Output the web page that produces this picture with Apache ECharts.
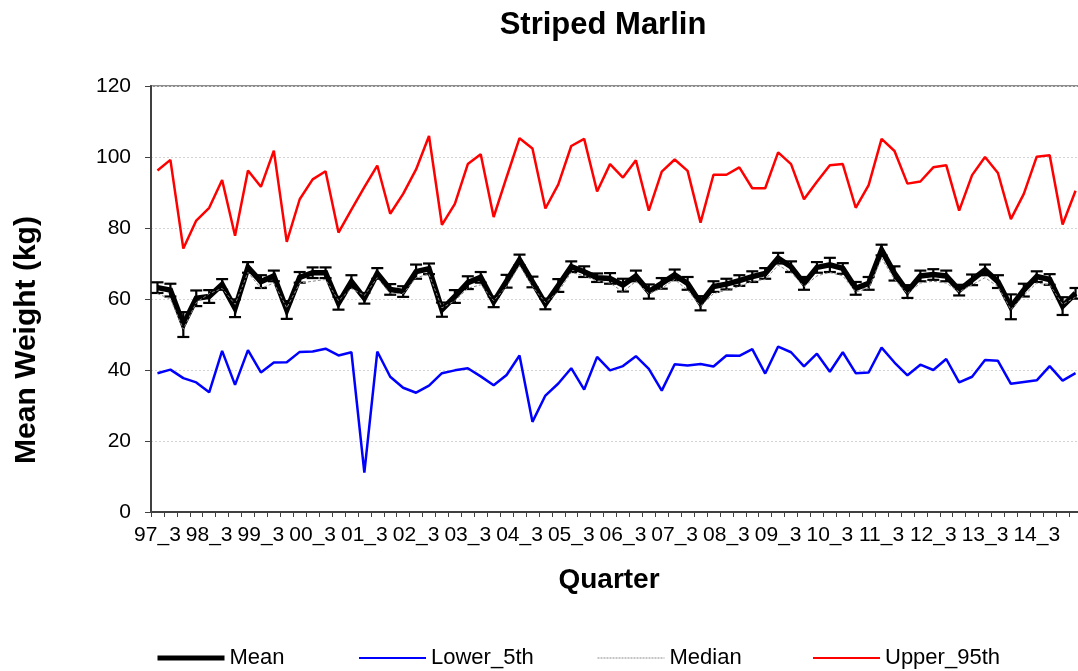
<!DOCTYPE html>
<html>
<head>
<meta charset="utf-8">
<title>Striped Marlin</title>
<script src="https://cdn.jsdelivr.net/npm/echarts@6/dist/echarts.min.js"></script>
<style>
  html, body { margin: 0; padding: 0; background: #fff; overflow: hidden; }
  #chart { width: 1112px; height: 671px; }
</style>
</head>
<body>
<div id="chart"></div>
<script>
// Quarterly size statistics for striped marlin (kg)
const quarters = [
  '97_3','97_4','98_1','98_2','98_3','98_4','99_1','99_2','99_3','99_4',
  '00_1','00_2','00_3','00_4','01_1','01_2','01_3','01_4','02_1','02_2',
  '02_3','02_4','03_1','03_2','03_3','03_4','04_1','04_2','04_3','04_4',
  '05_1','05_2','05_3','05_4','06_1','06_2','06_3','06_4','07_1','07_2',
  '07_3','07_4','08_1','08_2','08_3','08_4','09_1','09_2','09_3','09_4',
  '10_1','10_2','10_3','10_4','11_1','11_2','11_3','11_4','12_1','12_2',
  '12_3','12_4','13_1','13_2','13_3','13_4','14_1','14_2','14_3','14_4',
  '15_1','15_2'
];

const meanWeight = [
  63.2, 62.5, 52.8, 60.2, 60.7, 64.1, 57.4, 68.9, 64.9, 66.5,
  56.9, 66.1, 67.4, 67.4, 58.8, 64.9, 60.2, 67.2, 62.7, 62.1,
  67.7, 68.5, 57.0, 60.7, 64.6, 66.1, 59.2, 65.0, 71.0, 64.8,
  58.6, 63.8, 69.1, 67.7, 66.0, 65.8, 63.9, 66.5, 62.1, 64.4,
  66.8, 64.4, 58.8, 63.5, 64.2, 65.2, 66.3, 67.2, 71.5, 69.1,
  64.4, 68.9, 69.6, 68.6, 63.0, 64.4, 73.8, 67.2, 62.1, 66.5,
  66.9, 66.5, 62.5, 65.4, 68.2, 64.9, 57.8, 62.5, 66.3, 65.5,
  58.0, 61.6
];

// half-width of the error bar drawn on each mean
const meanError = [
  1.5, 1.8, 3.5, 2.2, 1.8, 1.5, 2.5, 1.5, 1.8, 1.5,
  2.5, 1.5, 1.5, 1.5, 1.8, 1.8, 1.5, 1.5, 1.5, 1.5,
  2.0, 1.5, 2.0, 1.8, 1.8, 1.5, 1.5, 1.8, 1.5, 1.5,
  1.5, 1.8, 1.5, 1.5, 1.2, 1.5, 1.8, 1.5, 2.0, 1.5,
  1.5, 1.8, 2.0, 1.5, 1.5, 1.5, 1.5, 1.5, 1.5, 1.5,
  1.8, 1.5, 2.0, 1.5, 1.8, 1.8, 1.5, 2.0, 1.8, 1.5,
  1.5, 1.5, 1.5, 1.5, 1.5, 1.8, 3.5, 1.8, 1.5, 1.5,
  2.5, 1.5
];

const medianWeight = [
  61.5, 60.0, 51.5, 59.0, 61.5, 63.0, 58.5, 67.5, 63.0, 64.5,
  57.5, 64.5, 65.0, 65.5, 59.5, 63.0, 61.0, 66.0, 61.5, 61.5,
  66.0, 67.0, 57.5, 59.5, 63.0, 64.0, 59.5, 63.5, 69.5, 63.5,
  59.0, 62.0, 67.5, 66.5, 65.0, 64.5, 62.0, 65.0, 61.5, 63.0,
  65.5, 62.5, 58.0, 61.5, 62.5, 63.5, 65.0, 65.5, 69.5, 67.5,
  63.5, 66.5, 67.5, 66.5, 62.0, 63.0, 71.5, 65.5, 61.5, 64.5,
  65.0, 64.5, 62.0, 64.0, 66.0, 63.5, 57.0, 61.0, 64.5, 64.0,
  58.5, 60.5
];

const lower5th = [
  39.1, 40.1, 37.7, 36.5, 33.7, 45.4, 35.8, 45.6, 39.3, 42.1,
  42.2, 45.1, 45.2, 46.0, 44.1, 45.0, 11.1, 45.2, 38.1, 35.0,
  33.6, 35.6, 39.1, 39.9, 40.5, 38.2, 35.7, 38.6, 44.1, 25.4,
  32.8, 36.2, 40.5, 34.5, 43.7, 39.9, 41.1, 43.9, 40.3, 34.2,
  41.6, 41.3, 41.7, 41.0, 44.1, 44.0, 45.9, 39.0, 46.6, 45.0,
  41.0, 44.6, 39.5, 45.0, 39.1, 39.3, 46.3, 42.1, 38.5, 41.5,
  40.0, 43.1, 36.5, 38.1, 42.8, 42.6, 36.1, 36.6, 37.1, 41.1,
  37.0, 39.1
];

const upper95th = [
  96.2, 99.2, 74.2, 82.1, 85.7, 93.5, 77.8, 96.2, 91.6, 101.8,
  76.1, 88.1, 93.7, 96.0, 78.7, 85.2, 91.5, 97.6, 84.0, 89.6,
  96.5, 105.9, 80.9, 86.8, 98.0, 100.8, 83.1, 94.3, 105.3, 102.4,
  85.5, 92.3, 103.1, 105.1, 90.3, 98.0, 94.2, 99.1, 84.9, 95.9,
  99.3, 96.1, 81.5, 95.0, 95.0, 97.1, 91.2, 91.2, 101.3, 98.0,
  88.1, 93.0, 97.7, 98.0, 85.7, 92.1, 105.1, 101.7, 92.5, 93.1,
  97.1, 97.7, 84.9, 94.9, 100.0, 95.5, 82.5, 89.6, 100.1, 100.5,
  81.0, 90.5
];

const yTicks = { min: 0, max: 120, step: 20 };

const FONT = '"Liberation Sans", Arial, sans-serif';

// rows of [index, low, high] for the error bars
const errorRows = meanWeight.map((m, i) => [i, m - meanError[i], m + meanError[i]]);

const chart = echarts.init(document.getElementById('chart'), null, { renderer: 'canvas' });

// one legend block per entry so each sits at its own spot along the bottom
function legendBlock(name, left, lineStyle) {
  return {
    left: left, top: 642,
    itemWidth: 67, itemHeight: 16,
    textStyle: { fontSize: 22, color: '#000', fontFamily: FONT },
    data: [{ name: name, lineStyle: lineStyle, itemStyle: { opacity: 0 } }]
  };
}

const option = {
  backgroundColor: '#fff',
  animation: false,
  textStyle: { fontFamily: FONT },
  graphic: [
    {
      type: 'text', x: 603, y: 25, z: 10,
      style: { text: 'Striped Marlin', font: 'bold 31px ' + FONT, fill: '#000',
               align: 'center', verticalAlign: 'middle' }
    },
    {
      type: 'text', x: 609, y: 580, z: 10,
      style: { text: 'Quarter', font: 'bold 28px ' + FONT, fill: '#000',
               align: 'center', verticalAlign: 'middle' }
    },
    {
      type: 'text', x: 27, y: 340, rotation: Math.PI / 2, z: 10,
      style: { text: 'Mean Weight (kg)', font: 'bold 30px ' + FONT, fill: '#000',
               align: 'center', verticalAlign: 'middle' }
    }
  ],
  grid: {
    left: 151, top: 86, height: 426, width: 931,
    show: true, borderColor: '#8c8c8c', borderWidth: 2, backgroundColor: 'transparent'
  },
  legend: [
    legendBlock('Mean', 150, { width: 5, color: '#000' }),
    legendBlock('Lower_5th', 353, { width: 2, color: '#0000ff' }),
    legendBlock('Median', 592, { width: 1, color: '#888', type: [2, 1] }),
    legendBlock('Upper_95th', 807, { width: 2, color: '#ff0000' })
  ],
  xAxis: {
    type: 'category',
    data: quarters,
    boundaryGap: true,
    axisLine: { lineStyle: { color: '#404040', width: 2 } },
    axisTick: { show: true, interval: 0, length: 5, lineStyle: { color: '#404040', width: 1 } },
    axisLabel: { interval: 3, margin: 13, fontSize: 21, color: '#000', fontFamily: FONT },
    splitLine: { show: false }
  },
  yAxis: {
    type: 'value',
    min: yTicks.min, max: yTicks.max, interval: yTicks.step,
    axisLine: { show: true, lineStyle: { color: '#404040', width: 2 } },
    axisTick: { show: true, length: 6, lineStyle: { color: '#404040', width: 1 } },
    axisLabel: { margin: 20, fontSize: 21, color: '#000', fontFamily: FONT },
    splitLine: { show: true, lineStyle: { color: '#d4d4d4', width: 1, type: [2, 2] } }
  },
  series: [
    {
      name: 'Lower_5th', type: 'line', data: lower5th,
      symbol: 'none', z: 2,
      lineStyle: { color: '#0000ff', width: 2.5 }, itemStyle: { color: '#0000ff' }
    },
    {
      name: 'Upper_95th', type: 'line', data: upper95th,
      symbol: 'none', z: 2,
      lineStyle: { color: '#ff0000', width: 2.5 }, itemStyle: { color: '#ff0000' }
    },
    {
      name: 'Mean', type: 'line', data: meanWeight,
      symbol: 'none', z: 3,
      lineStyle: { color: '#000', width: 5.5, join: 'miter' }, itemStyle: { color: '#000' }
    },
    {
      name: 'MeanError', type: 'custom', z: 4,
      data: errorRows,
      renderItem: function (params, api) {
        const x = api.value(0);
        const lo = api.coord([x, api.value(1)]);
        const hi = api.coord([x, api.value(2)]);
        const half = 6;
        const st = { stroke: '#000', lineWidth: 2.2 };
        return {
          type: 'group',
          children: [
            { type: 'line', shape: { x1: lo[0], y1: lo[1], x2: hi[0], y2: hi[1] }, style: st },
            { type: 'line', shape: { x1: lo[0] - half, y1: lo[1], x2: lo[0] + half, y2: lo[1] }, style: st },
            { type: 'line', shape: { x1: hi[0] - half, y1: hi[1], x2: hi[0] + half, y2: hi[1] }, style: st }
          ]
        };
      }
    },
    {
      name: 'Median', type: 'line', data: medianWeight,
      symbol: 'none', z: 5,
      lineStyle: { color: '#888', width: 1, type: [3, 2] }, itemStyle: { color: '#888' }
    }
  ]
};

chart.setOption(option);
</script>
</body>
</html>
